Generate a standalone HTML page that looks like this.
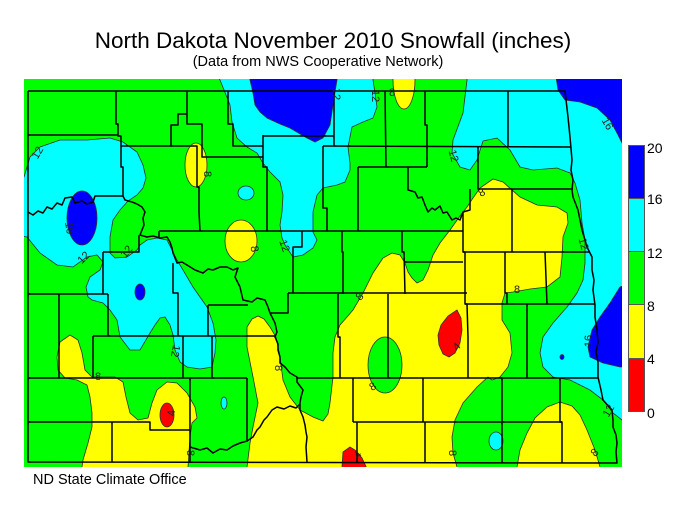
<!DOCTYPE html>
<html><head><meta charset="utf-8"><style>
html,body{margin:0;padding:0;background:#fff;}
svg{display:block;font-family:"Liberation Sans",Arial,sans-serif;}
</style></head><body>
<svg width="700" height="530" viewBox="0 0 700 530" xmlns="http://www.w3.org/2000/svg">
<defs><clipPath id="mc"><rect x="24" y="79" width="598" height="388"/></clipPath></defs>
<rect width="700" height="530" fill="#fff"/>
<text x="333" y="48" font-size="22.5" text-anchor="middle" fill="#000">North Dakota November 2010 Snowfall (inches)</text>
<text x="318" y="66" font-size="14.5" text-anchor="middle" fill="#000">(Data from NWS Cooperative Network)</text>
<g clip-path="url(#mc)">
<rect x="24" y="79" width="598" height="388" fill="#00ff00"/>
<g stroke="#303030" stroke-width="0.8">
<polygon fill="#00ffff" points="15,175 24,177 30,157 40,147 60,140 87,140 110,138 123,142 137,152 143,165 146,178 143,188 137,195 128,201 120,210 113,220 110,237 110,253 115,258 127,257 137,250 140,245 147,240 157,238 167,240 172,250 177,260 183,270 193,287 207,307 213,323 216,340 215,353 212,367 200,369 187,367 180,362 175,350 173,335 170,325 165,317 160,318 155,325 150,333 140,350 130,350 120,337 117,320 110,310 103,303 92,300 88,297 86,287 90,277 100,270 103,262 97,255 87,257 73,267 57,265 40,253 27,237 15,235"/>
<polygon fill="#00ffff" points="215,70 220,80 222,85 230,105 232,122 237,138 247,147 257,153 263,163 270,172 280,182 283,195 282,212 280,225 282,238 285,245 293,257 303,255 313,248 317,240 313,232 313,212 317,195 323,188 337,185 345,182 350,170 350,163 348,147 352,127 363,122 373,118 377,107 375,93 373,80 373,70"/>
<polygon fill="#00ffff" points="467,70 467,80 463,113 453,140 452,153 460,167 470,170 477,160 483,141 497,138 510,150 520,167 533,170 557,168 570,173 575,183 580,200 582,223 585,240 585,263 583,280 577,293 567,307 553,323 543,337 540,353 543,367 553,377 570,380 590,390 603,400 613,413 622,420 632,422 632,70"/>
<ellipse cx="246" cy="193" rx="8" ry="7" fill="#00ffff"/>
<ellipse cx="224" cy="403" rx="3" ry="6" fill="#00ffff"/>
<ellipse cx="496" cy="441" rx="7" ry="9" fill="#00ffff"/>
<polygon fill="#0000ff" points="250,70 250,80 253,93 255,105 260,112 267,118 280,124 290,128 307,138 315,142 323,138 330,125 333,105 335,92 337,80 337,70"/>
<polygon fill="#0000ff" points="555,70 558,90 565,100 580,102 597,108 610,120 617,133 622,143 632,148 632,70"/>
<polygon fill="#0000ff" points="632,283 620,287 610,303 600,317 592,330 588,347 590,357 603,363 620,367 632,367"/>
<ellipse cx="82" cy="218" rx="15" ry="27" fill="#0000ff"/>
<ellipse cx="140" cy="292" rx="5" ry="8" fill="#0000ff"/>
<ellipse cx="562" cy="357" rx="2" ry="2.5" fill="#0000ff"/>
<polygon fill="#ffff00" points="245,475 247,467 250,443 253,427 258,403 253,377 247,347 247,327 252,319 258,316 264,319 270,327 276,337 280,357 283,380 290,397 300,410 313,417 323,421 328,414 330,403 333,377 333,353 335,337 340,325 347,317 353,310 363,293 373,273 383,258 392,253 400,255 405,263 408,272 412,278 417,283 423,280 428,270 433,255 440,243 450,230 460,216 467,207 473,198 480,188 493,179 503,182 520,197 537,205 557,207 567,213 568,223 563,237 562,257 560,277 547,287 530,289 513,292 505,293 502,303 502,320 510,333 512,353 508,367 500,377 492,380 488,377 477,387 463,403 455,420 452,437 453,453 457,467 458,475"/>
<polygon fill="#ffff00" points="82,475 82,467 83,460 88,443 92,427 92,413 90,397 87,385 77,380 65,378 58,370 57,357 60,342 70,335 78,340 82,353 85,370 92,377 102,377 115,377 123,382 126,397 130,413 138,420 148,418 152,403 157,390 167,382 177,383 187,393 195,407 197,418 192,423 190,437 188,467 188,475"/>
<polygon fill="#ffff00" points="516,475 517,467 520,450 527,433 535,418 547,407 560,402 572,406 580,415 587,430 595,450 600,467 601,475"/>
<ellipse cx="196" cy="165" rx="11" ry="22" fill="#ffff00"/>
<ellipse cx="241" cy="241" rx="16" ry="21" fill="#ffff00"/>
<ellipse cx="404" cy="80" rx="11" ry="29" fill="#ffff00"/>
<ellipse cx="385" cy="365" rx="17" ry="28" fill="#00ff00"/>
<polygon fill="#ff0000" points="457,310 461,318 462,330 460,343 455,353 449,357 443,354 439,345 438,335 441,325 448,316"/>
<ellipse cx="167" cy="415" rx="7" ry="12" fill="#ff0000"/>
<polygon fill="#ff0000" points="340,475 342,467 343,452 350,447 355,450 362,458 370,475"/>
</g>
<g fill="none" stroke="#000" stroke-width="1.5" stroke-linejoin="round">
<polyline points="28,91 565,91 568,117 570,137 572,160 571,170 573,180 572,190 573,197 578,210 580,220 582,230 585,240 587,247 592,257 592,270 594,280 593,290 595,305 595,317 597,330 598,343 596,352 598,362 598,377 601,390 603,400 612,410 613,420 613,427 616,435 617,443 616,452 617,463 28,462 28,91"/>
<polyline points="28,135 118,135"/>
<polyline points="116,91 116,124 118,124 118,136 121,136 121,167 123,167 123,196"/>
<polyline points="121,146 171,146 171,125 178,125 178,114 187,114"/>
<polyline points="187,91 187,124 202,124 202,157 263,157"/>
<polyline points="171,146 197,146 197,187 199,187 199,212 200,231"/>
<polyline points="228,91 228,124 233,124 233,146 263,146"/>
<polyline points="263,135 263,167 267,167 267,231"/>
<polyline points="263,136 334,136"/>
<polyline points="334,91 334,146"/>
<polyline points="323,146 571,147"/>
<polyline points="323,146 323,208 327,208 327,231"/>
<polyline points="385,91 386,167"/>
<polyline points="425,91 425,125 427,125 427,167"/>
<polyline points="358,167 427,167"/>
<polyline points="358,167 358,231"/>
<polyline points="408,167 408,190 415,192 418,198 422,197 425,205 428,212 432,208 435,210 440,206 443,213 447,212 452,220 456,218 460,220 463,212 470,210 470,189"/>
<polyline points="478,146 478,189 573,189"/>
<polyline points="508,91 508,147"/>
<polyline points="512,189 512,252"/>
<polyline points="463,212 463,252 465,252 465,304 467,304 468,337 468,378"/>
<polyline points="463,252 590,252"/>
<polyline points="505,252 505,293 507,293 507,304"/>
<polyline points="545,252 547,304"/>
<polyline points="465,304 595,304"/>
<polyline points="527,304 527,378"/>
<polyline points="159,231 463,231"/>
<polyline points="159,231 159,238"/>
<polyline points="302,231 302,247 293,247 293,293"/>
<polyline points="342,231 342,252 343,252 343,294"/>
<polyline points="402,231 402,252 404,252 405,294"/>
<polyline points="404,262 463,262"/>
<polyline points="288,293 467,293"/>
<polyline points="288,293 288,313 270,313"/>
<polyline points="338,294 338,337 340,337 340,378"/>
<polyline points="388,294 388,378"/>
<polyline points="297,378 598,378"/>
<polyline points="502,378 502,463"/>
<polyline points="560,378 560,422 562,422 562,463"/>
<polyline points="353,378 353,422"/>
<polyline points="353,422 562,422"/>
<polyline points="423,378 423,422"/>
<polyline points="357,422 357,462"/>
<polyline points="425,422 425,462"/>
<polyline points="28,294 108,294"/>
<polyline points="59,294 59,378"/>
<polyline points="108,294 108,336"/>
<polyline points="103,252 103,294"/>
<polyline points="103,252 139,252 139,235"/>
<polyline points="93,336 276,336"/>
<polyline points="93,336 93,378"/>
<polyline points="28,378 247,378"/>
<polyline points="183,336 183,378"/>
<polyline points="173,263 173,293 178,293 178,336"/>
<polyline points="208,305 248,305"/>
<polyline points="208,305 208,336"/>
<polyline points="212,336 212,378"/>
<polyline points="247,378 247,440"/>
<polyline points="28,422 150,422 150,430 190,430"/>
<polyline points="112,422 112,462"/>
<polyline points="190,378 190,462"/>
<polyline points="190,447 200,450 207,448 213,453 220,449 227,450 233,446 240,443 247,441 253,437 257,430 260,427 264,420 267,417 272,410 277,407 284,409 290,406 296,408 300,404"/>
<polyline points="28,212 33,215 38,211 43,213 47,207 52,209 57,203 62,205 65,198 72,197 75,203 82,201 87,204 93,202 95,196 123,196"/>
<polyline points="123,196 125,200 132,202 137,204 142,207 145,212 143,218 144,225 140,235 147,237 153,236 160,238 167,237 170,242 172,248 173,253 175,258 177,263 182,262 187,265 195,270 203,273 208,269 213,270 220,267 227,267 233,270 238,268 235,277 240,287 243,300 252,302 257,298 265,300 268,307 270,313 275,323 277,332 275,337 278,344 278,350 280,357 280,363 285,367 290,373 297,377 297,382 303,390 301,397 300,403 300,410 303,417 305,425 306,432 307,437 306,447 307,462"/>
</g>
<g font-size="11" fill="#222" text-anchor="middle" dominant-baseline="central">
<text transform="translate(38,153) rotate(-60)">12</text>
<text transform="translate(69,228) rotate(80)">16</text>
<text transform="translate(84,258) rotate(-45)">12</text>
<text transform="translate(127,252) rotate(-50)">12</text>
<text transform="translate(207,174) rotate(90)">8</text>
<text transform="translate(254,249) rotate(80)">8</text>
<text transform="translate(284,246) rotate(70)">12</text>
<text transform="translate(336,94) rotate(90)">12</text>
<text transform="translate(375,96) rotate(90)">12</text>
<text transform="translate(392,93)">8</text>
<text transform="translate(453,156) rotate(75)">12</text>
<text transform="translate(607,124) rotate(60)">16</text>
<text transform="translate(482,193) rotate(-30)">8</text>
<text transform="translate(583,244) rotate(75)">12</text>
<text transform="translate(517,290)">8</text>
<text transform="translate(360,297) rotate(-45)">8</text>
<text transform="translate(457,347) rotate(-45)">4</text>
<text transform="translate(373,387) rotate(-30)">8</text>
<text transform="translate(589,341) rotate(-90)">16</text>
<text transform="translate(609,411) rotate(-60)">12</text>
<text transform="translate(358,455) rotate(-45)">4</text>
<text transform="translate(452,453) rotate(90)">8</text>
<text transform="translate(595,453) rotate(-45)">8</text>
<text transform="translate(98,377)">8</text>
<text transform="translate(172,413) rotate(-90)">4</text>
<text transform="translate(175,351) rotate(100)">12</text>
<text transform="translate(278,368) rotate(90)">8</text>
<text transform="translate(190,453) rotate(90)">8</text>
</g>
</g>
<g stroke="#555" stroke-width="1">
<rect x="628.5" y="145.5" width="16" height="53" fill="#0000ff"/>
<rect x="628.5" y="198.5" width="16" height="53" fill="#00ffff"/>
<rect x="628.5" y="251.5" width="16" height="53" fill="#00ff00"/>
<rect x="628.5" y="304.5" width="16" height="54" fill="#ffff00"/>
<rect x="628.5" y="358.5" width="16" height="53" fill="#ff0000"/>
</g>
<g font-size="14" fill="#000">
<text x="647" y="153">20</text>
<text x="647" y="204">16</text>
<text x="647" y="258">12</text>
<text x="647" y="311">8</text>
<text x="647" y="364">4</text>
<text x="647" y="418">0</text>
</g>
<text x="33" y="484" font-size="14.5" fill="#000">ND State Climate Office</text>
</svg>
</body></html>
